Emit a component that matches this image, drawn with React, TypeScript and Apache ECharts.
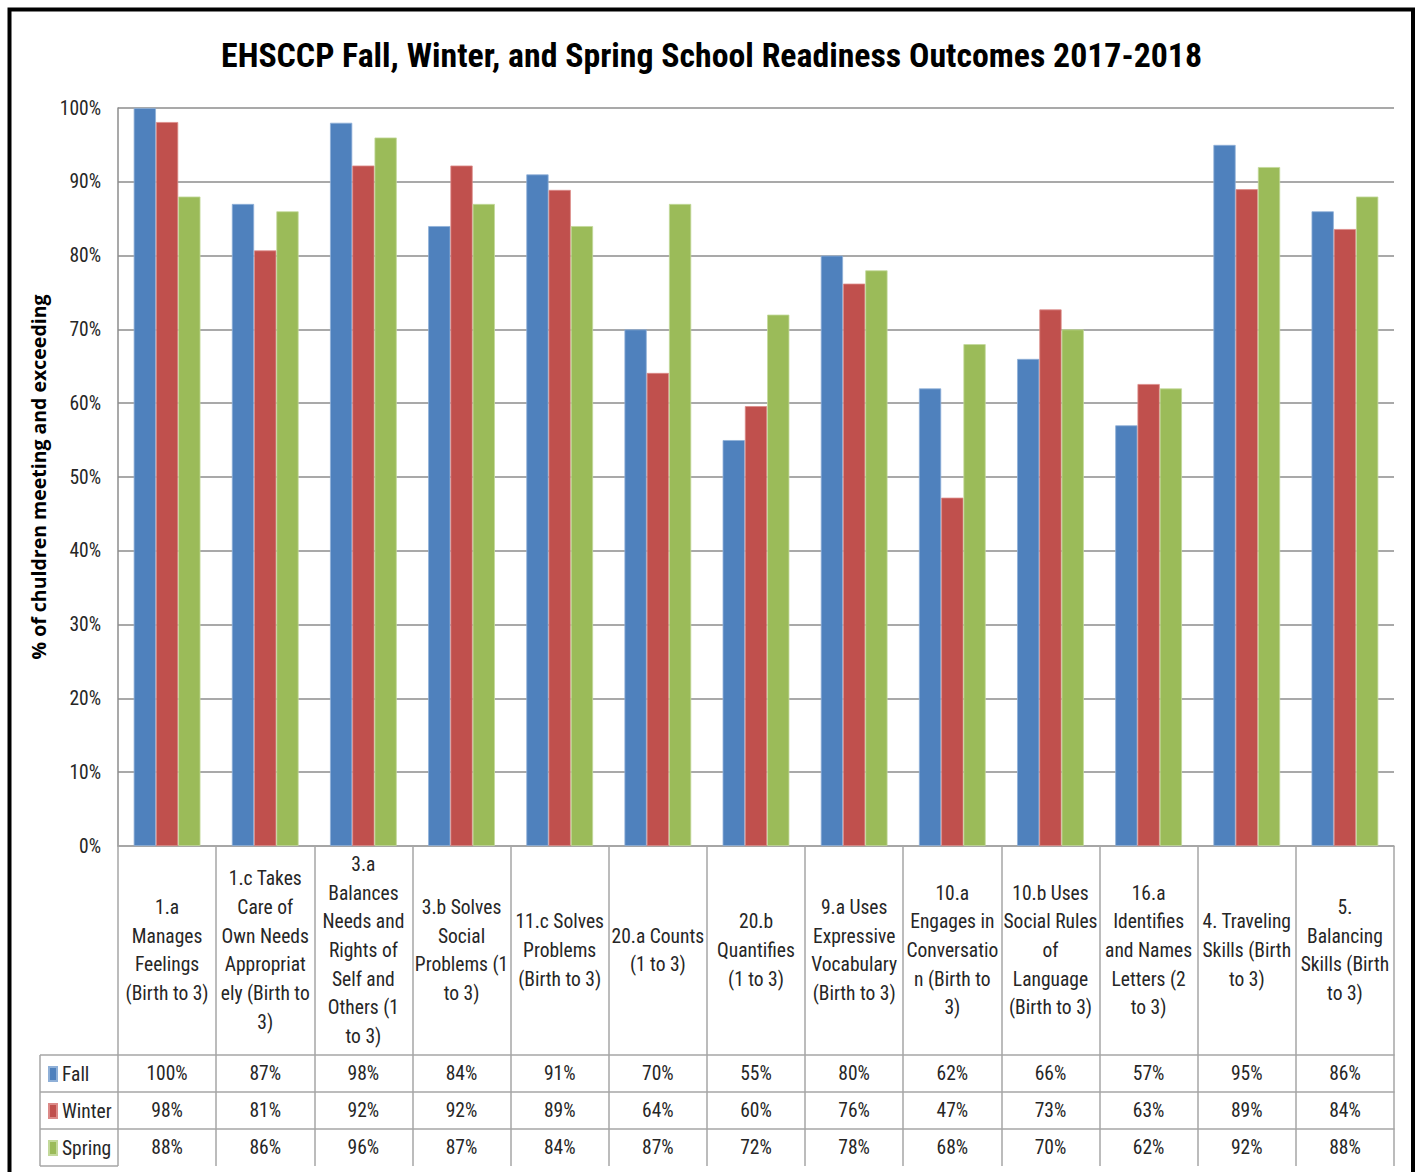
import React, { useEffect, useRef } from "react";
import * as echarts from "echarts";

const titleText = "EHSCCP Fall, Winter, and Spring School Readiness Outcomes 2017-2018";
const yAxisTitle = "% of chuldren meeting and exceeding";

const categories = [
  "1.a\nManages\nFeelings\n(Birth to 3)",
  "1.c Takes\nCare of\nOwn Needs\nAppropriat\nely (Birth to\n3)",
  "3.a\nBalances\nNeeds and\nRights of\nSelf and\nOthers (1\nto 3)",
  "3.b Solves\nSocial\nProblems (1\nto 3)",
  "11.c Solves\nProblems\n(Birth to 3)",
  "20.a Counts\n(1 to 3)",
  "20.b\nQuantifies\n(1 to 3)",
  "9.a Uses\nExpressive\nVocabulary\n(Birth to 3)",
  "10.a\nEngages in\nConversatio\nn (Birth to\n3)",
  "10.b Uses\nSocial Rules\nof\nLanguage\n(Birth to 3)",
  "16.a\nIdentifies\nand Names\nLetters (2\nto 3)",
  "4. Traveling\nSkills (Birth\nto 3)",
  "5.\nBalancing\nSkills (Birth\nto 3)",
];

const seriesNames = ["Fall", "Winter", "Spring"];
const fall = [100, 87, 98, 84, 91, 70, 55, 80, 62, 66, 57, 95, 86];
const winter = [98.1, 80.7, 92.2, 92.2, 88.9, 64.1, 59.6, 76.2, 47.2, 72.7, 62.6, 89.0, 83.6];
const spring = [88, 86, 96, 87, 84, 87, 72, 78, 68, 70, 62, 92, 88];
const seriesColors = ["#4F81BD", "#C0504D", "#9BBB59"];
const seriesBorders = ["#8fb0d8", "#dc8a88", "#c3d99a"];

const yMin = 0;
const yMax = 100;
const yStep = 10;

const FONT = "'Liberation Sans Narrow', 'Roboto Condensed', 'Liberation Sans', sans-serif";
const GRID_LINE = "#8c8c8c";
const TABLE_LINE = "#a6a6a6";
const TEXT = "#262626";

const pct = (v: number) => `${Math.round(v)}%`;

export default function App() {
  const ref = useRef<HTMLDivElement>(null);

  useEffect(() => {
    document.body.style.margin = "0";
    document.body.style.overflow = "hidden";
    const chart = echarts.init(ref.current!, null, { renderer: "svg" });

    const gridLeft = 118;
    const gridTop = 108;
    const gridRight = 23;
    const gridBottom = 326;
    const axisY = 1172 - gridBottom;
    const rowOffsets = [209, 246, 283, 320];
    const rowData = [fall, winter, spring];

    const valueAxes = rowData.map((arr, r) => ({
      type: "category",
      gridIndex: 0,
      position: "bottom",
      offset: rowOffsets[r],
      data: categories,
      axisLine: { show: true, onZero: false, lineStyle: { color: TABLE_LINE, width: 1.5 } },
      axisTick: { show: false },
      splitLine: { show: false },
      axisLabel: {
        interval: 0,
        margin: 18.5,
        verticalAlign: "middle",
        fontFamily: FONT,
        fontSize: 19.5,
        color: TEXT,
        formatter: (_v: string, i: number) => pct(arr[i]),
      },
    }));

    const legendLines: any[] = rowOffsets.map((off) => ({
      type: "line",
      silent: true,
      shape: { x1: 40, y1: axisY + off, x2: gridLeft, y2: axisY + off },
      style: { stroke: TABLE_LINE, lineWidth: 1.5 },
    }));
    legendLines.push({
      type: "line",
      silent: true,
      shape: { x1: 40, y1: axisY + rowOffsets[0], x2: 40, y2: axisY + rowOffsets[3] },
      style: { stroke: TABLE_LINE, lineWidth: 1.5 },
    });

    chart.setOption({
      animation: false,
      backgroundColor: "#ffffff",
      title: {
        text: titleText,
        left: 706.5,
        top: 33,
        textAlign: "center",
        textStyle: { fontFamily: FONT, fontWeight: "bold", fontSize: 33.8, color: "#000" },
      },
      legend: {
        data: seriesNames,
        orient: "vertical",
        left: 43,
        top: 1059,
        icon: "rect",
        itemWidth: 8,
        itemHeight: 14,
        itemGap: 17,
        selectedMode: false,
        textStyle: { fontFamily: FONT, fontSize: 19.5, lineHeight: 20, color: TEXT },
      },
      grid: { left: gridLeft, top: gridTop, right: gridRight, bottom: gridBottom, containLabel: false },
      xAxis: [
        {
          type: "category",
          gridIndex: 0,
          position: "bottom",
          data: categories,
          axisLine: { show: true, onZero: false, lineStyle: { color: TABLE_LINE, width: 1.5 } },
          axisTick: {
            show: true,
            interval: 0,
            length: rowOffsets[3],
            lineStyle: { color: TABLE_LINE, width: 1.5 },
          },
          axisLabel: {
            interval: 0,
            margin: 104.5,
            verticalAlign: "middle",
            align: "center",
            lineHeight: 28.7,
            fontFamily: FONT,
            fontSize: 19.5,
            color: TEXT,
          },
        },
        ...valueAxes,
      ],
      yAxis: {
        type: "value",
        min: yMin,
        max: yMax,
        interval: yStep,
        name: yAxisTitle,
        nameLocation: "middle",
        nameGap: 55,
        nameRotate: 90,
        nameTextStyle: { fontFamily: "'Open Sans', sans-serif", fontWeight: "bold", fontSize: 19.5, color: "#000" },
        axisLine: { show: true, lineStyle: { color: GRID_LINE, width: 1.5 } },
        axisTick: { show: false },
        splitLine: { show: true, lineStyle: { color: GRID_LINE, width: 1.5 } },
        axisLabel: {
          formatter: "{value}%",
          margin: 17,
          fontFamily: FONT,
          fontSize: 19.5,
          color: TEXT,
        },
      },
      series: rowData.map((arr, i) => ({
        name: seriesNames[i],
        type: "bar",
        xAxisIndex: 0,
        yAxisIndex: 0,
        data: arr,
        barGap: "0%",
        barCategoryGap: "32%",
        itemStyle: { color: seriesColors[i], borderColor: seriesBorders[i], borderWidth: 0.8 },
      })),
      graphic: [
        ...legendLines,
        {
          type: "rect",
          silent: true,
          z: 100,
          shape: { x: 9.5, y: 9.5, width: 1403.5, height: 1200 },
          style: { fill: "none", stroke: "#000", lineWidth: 4 },
        },
      ],
    });

    return () => chart.dispose();
  }, []);

  return <div ref={ref} style={{ width: 1417, height: 1172 }} />;
}
